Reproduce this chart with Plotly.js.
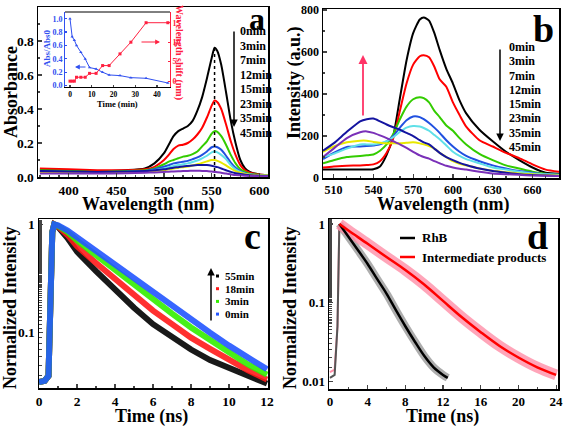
<!DOCTYPE html>
<html><head><meta charset="utf-8">
<script src="https://cdn.plot.ly/plotly-3.0.1.min.js"></script>
<style>html,body{margin:0;padding:0;background:#fff}#chart{width:564px;height:426px}</style>
</head><body><div id="chart"></div>
<script>
// ---------- Panel a: absorbance spectra ----------
const wlA = [370,400,430,460,480,490,500,505,510,515,520,525,530,535,540,545,550,553,556,560,565,570,575,580,585,590,600,610];
const timeLabels = ['0min','3min','7min','12min','15min','23min','35min','45min'];
const abs0  = [0.045,0.04,0.035,0.04,0.05,0.08,0.14,0.19,0.24,0.27,0.285,0.30,0.33,0.39,0.47,0.58,0.70,0.76,0.74,0.66,0.50,0.33,0.20,0.10,0.05,0.03,0.015,0.01];
const abs3  = [0.05,0.045,0.04,0.04,0.045,0.06,0.10,0.13,0.165,0.185,0.19,0.20,0.22,0.25,0.29,0.35,0.42,0.45,0.44,0.40,0.31,0.21,0.13,0.07,0.04,0.025,0.015,0.01];
const abs7  = [0.04,0.035,0.03,0.035,0.04,0.05,0.075,0.09,0.10,0.11,0.12,0.125,0.135,0.15,0.18,0.21,0.255,0.27,0.265,0.24,0.19,0.13,0.08,0.045,0.03,0.02,0.012,0.008];
const abs12 = [0.035,0.03,0.03,0.03,0.035,0.045,0.06,0.07,0.08,0.085,0.09,0.095,0.105,0.115,0.13,0.15,0.175,0.18,0.175,0.16,0.125,0.085,0.055,0.035,0.022,0.015,0.01,0.008];
const abs15 = [0.03,0.03,0.028,0.03,0.033,0.04,0.05,0.058,0.065,0.07,0.075,0.08,0.088,0.097,0.11,0.125,0.145,0.15,0.145,0.13,0.105,0.07,0.045,0.03,0.02,0.015,0.01,0.008];
const abs23 = [0.03,0.028,0.027,0.028,0.03,0.035,0.04,0.045,0.05,0.055,0.058,0.062,0.068,0.075,0.083,0.092,0.10,0.10,0.095,0.085,0.068,0.05,0.035,0.025,0.018,0.013,0.01,0.008];
const abs35 = [0.035,0.032,0.03,0.032,0.035,0.04,0.045,0.05,0.055,0.058,0.062,0.065,0.068,0.07,0.071,0.07,0.066,0.062,0.058,0.05,0.04,0.03,0.022,0.017,0.013,0.01,0.008,0.006];
const abs45 = [0.02,0.02,0.02,0.022,0.025,0.027,0.03,0.031,0.033,0.034,0.035,0.036,0.037,0.037,0.036,0.035,0.032,0.03,0.028,0.025,0.02,0.016,0.012,0.01,0.008,0.006,0.005,0.004];
const peakWl = 553, peakAbs = 0.76;

// inset
const insetTime  = [0,1,2,3,5,7,9,12,15,18,23,28,35,45];
const insetRatio = [1.0,0.73,0.68,0.6,0.5,0.4,0.27,0.25,0.2,0.16,0.15,0.12,0.11,0.04];
const insetShift = [0,0,0,1,1,1,2,2,4,4,7,10,15,15];

// ---------- Panel b: emission spectra ----------
const wlB = [502,510,520,530,535,540,545,550,555,560,565,570,575,578,582,586,590,595,600,605,610,620,630,640,650,660,670,680];
const em0  = [40,40,40,40,40,42,55,110,200,380,560,690,755,765,750,690,610,520,450,370,308,230,175,125,85,50,25,20];
const em3  = [50,55,58,60,62,65,80,120,190,320,450,540,580,585,575,530,470,435,360,300,245,180,150,120,95,65,40,30];
const em7  = [70,85,100,105,108,112,130,160,210,280,340,375,385,380,360,320,290,250,225,190,160,115,85,60,45,30,20,15];
const em12 = [90,120,148,150,152,155,160,175,200,240,275,293,290,280,262,240,215,180,150,125,105,80,60,45,33,25,18,15];
const em15 = [100,115,140,160,160,160,165,175,195,220,240,248,245,238,225,205,185,155,125,105,90,70,50,40,30,22,18,15];
const em23 = [125,150,170,178,178,172,168,165,165,165,168,170,165,160,152,140,120,100,80,68,60,45,35,28,22,18,14,12];
const em35 = [130,165,220,270,280,283,270,255,242,230,215,200,180,170,160,140,120,100,85,72,62,45,33,25,18,14,12,10];
const em45 = [100,140,190,218,222,215,203,190,175,160,143,125,108,100,92,80,70,58,50,44,40,30,22,18,15,12,11,10];

// ---------- Panel c: decays ----------
const tC = [0,0.3,0.5,0.6,0.7,0.8,1,1.5,2,3,4,5,6,7,8,9,10,11,12];
const decayLabels = ['55min','18min','3min','0min'];
const decBlack = [0.035,0.036,0.04,0.3,0.85,1.0,0.95,0.75,0.56,0.37,0.25,0.17,0.12,0.09,0.07,0.056,0.047,0.04,0.034];
const decRed   = [0.035,0.036,0.04,0.3,0.85,1.0,0.96,0.8,0.63,0.44,0.31,0.22,0.16,0.12,0.09,0.071,0.056,0.045,0.037];
const decGreen = [0.035,0.036,0.04,0.3,0.85,1.0,0.97,0.85,0.71,0.52,0.38,0.28,0.2,0.15,0.112,0.085,0.066,0.051,0.041];
const decBlue  = [0.035,0.036,0.04,0.3,0.85,1.0,0.98,0.88,0.76,0.57,0.43,0.32,0.24,0.18,0.135,0.1,0.076,0.059,0.046];

// ---------- Panel d ----------
const tRise = [0,0.5,0.8,0.9,1];
const rhbRise = [0.011,0.012,0.05,0.4,1];
const intRise = [0.013,0.014,0.05,0.4,1];
const tRhB = [1,2,3,4,5,6,7,8,9,10,11,12,12.5];
const rhbData = [1,0.68,0.46,0.31,0.2,0.13,0.08,0.05,0.032,0.021,0.015,0.012,0.011];
const rhbFit  = [1,0.68,0.46,0.31,0.2,0.13,0.08,0.05,0.032,0.021,0.015,0.012,0.011];
const tInt = [1,2,4,6,8,10,12,14,16,18,20,22,24];
const intData = [1,0.82,0.56,0.38,0.26,0.17,0.105,0.065,0.042,0.028,0.02,0.015,0.012];
const intFit  = [1,0.82,0.56,0.38,0.26,0.17,0.105,0.065,0.042,0.028,0.02,0.015,0.012];
const fitLabels = ['RhB','Intermediate products'];

// ---------- helpers ----------
const W = 564, H = 426;
const px = x => x / W, py = y => 1 - y / H;
const SERIF = 'Liberation Serif';
const bf = (s, c) => ({family: SERIF, size: s, color: c || '#000', weight: 'bold'});

const colA = ['#000000','#ff0000','#33cc00','#2050e0','#60e0e8','#e8e800','#1414a0','#7a30b8'];
const colC = ['#000000','#ff1a1a','#33ee00','#2255ff'];

const traces = [];
const absSeries = [abs0,abs3,abs7,abs12,abs15,abs23,abs35,abs45];
absSeries.forEach((s,i)=>traces.push({x:wlA,y:s,xaxis:'x',yaxis:'y',type:'scatter',mode:'lines',line:{color:colA[i],width:2,shape:'spline',smoothing:0.6}}));
traces.push({x:insetTime,y:insetRatio,xaxis:'x5',yaxis:'y5',type:'scatter',mode:'lines+markers',line:{color:'#3050f0',width:1},marker:{symbol:'triangle-up',size:3,color:'#3050f0'}});
traces.push({x:insetTime,y:insetShift,xaxis:'x5',yaxis:'y6',type:'scatter',mode:'lines+markers',line:{color:'#ff2040',width:1},marker:{symbol:'square',size:3,color:'#ff2040'}});
const emSeries = [em0,em3,em7,em12,em15,em23,em35,em45];
emSeries.forEach((s,i)=>traces.push({x:wlB,y:s,xaxis:'x2',yaxis:'y2',type:'scatter',mode:'lines',line:{color:colA[i],width:2,shape:'spline',smoothing:0.6}}));
[decBlack,decRed,decGreen,decBlue].forEach((s,i)=>traces.push({x:tC,y:s,xaxis:'x3',yaxis:'y3',type:'scatter',mode:'lines',line:{color:colC[i],width:6},opacity:0.9}));
traces.push({x:tRise,y:intRise,xaxis:'x4',yaxis:'y4',type:'scatter',mode:'lines',line:{color:'#ff8fa8',width:2}});
traces.push({x:tRise,y:rhbRise,xaxis:'x4',yaxis:'y4',type:'scatter',mode:'lines',line:{color:'#555',width:2}});
traces.push({x:tRhB,y:rhbData,xaxis:'x4',yaxis:'y4',type:'scatter',mode:'lines',line:{color:'#8a8a8a',width:8,shape:'spline'},opacity:0.7});
traces.push({x:tInt,y:intData,xaxis:'x4',yaxis:'y4',type:'scatter',mode:'lines',line:{color:'#ff8fa8',width:11,shape:'spline'},opacity:0.8});
traces.push({x:tRhB,y:rhbFit,xaxis:'x4',yaxis:'y4',type:'scatter',mode:'lines',line:{color:'#000',width:2.5,shape:'spline'}});
traces.push({x:tInt,y:intFit,xaxis:'x4',yaxis:'y4',type:'scatter',mode:'lines',line:{color:'#ff0000',width:2.5,shape:'spline'}});

const ax = (o) => Object.assign({showline:true,linewidth:1.5,linecolor:'#000',mirror:true,ticks:'inside',ticklen:4,tickwidth:1.2,showgrid:false,zeroline:false,tickfont:bf(13.5),fixedrange:true}, o);

const layout = {
  width:W,height:H,margin:{l:0,r:0,t:0,b:0},paper_bgcolor:'#fff',plot_bgcolor:'rgba(0,0,0,0)',showlegend:false,
  xaxis: ax({domain:[px(38),px(268)],range:[368,609],anchor:'y',tickvals:[400,450,500,550,600],minor:{ticks:'inside',ticklen:2,dtick:10}}),
  yaxis: ax({domain:[py(177),py(7)],range:[0,1.0],anchor:'x',tickvals:[0,0.2,0.4,0.6,0.8,1.0],ticktext:['0.0','0.2','0.4','0.6','0.8','1.0'],minor:{ticks:'inside',ticklen:2,dtick:0.1}}),
  xaxis2: ax({domain:[px(323),px(559)],range:[502,680],anchor:'y2',tickvals:[510,540,570,600,630,660],tickfont:bf(12),minor:{ticks:'inside',ticklen:2,dtick:10}}),
  yaxis2: ax({domain:[py(178),py(9)],range:[0,805],anchor:'x2',tickvals:[0,200,400,600,800],tickfont:bf(12),minor:{ticks:'inside',ticklen:2,dtick:100}}),
  xaxis3: ax({domain:[px(39),px(268)],range:[0,12.05],anchor:'y3',tickvals:[0,2,4,6,8,10,12],minor:{ticks:'inside',ticklen:2,dtick:1}}),
  yaxis3: ax({domain:[py(388),py(219)],type:'log',range:[-1.51,0.05],anchor:'x3',tickvals:[0.1,1],ticktext:['0.1','1'],minor:{ticks:'inside',ticklen:3}}),
  xaxis4: ax({domain:[px(329),px(558)],range:[-0.1,24.2],anchor:'y4',tickvals:[0,4,8,12,16,20,24],tickfont:bf(13),minor:{ticks:'inside',ticklen:2,dtick:2}}),
  yaxis4: ax({domain:[py(389),py(219)],type:'log',range:[-2.1,0.064],anchor:'x4',tickvals:[0.01,0.1,1],ticktext:['0.01','0.1','1'],tickfont:bf(13),minor:{ticks:'inside',ticklen:3}}),
  xaxis5: ax({domain:[px(65),px(170)],range:[-2.3,46],anchor:'y5',linewidth:1,tickvals:[0,10,20,30,40],tickfont:bf(7.5),ticklen:2,mirror:false}),
  yaxis5: ax({domain:[py(87),py(12)],range:[-0.02,1.1],anchor:'x5',linewidth:1,linecolor:'#3050f0',tickcolor:'#3050f0',tickvals:[0,0.2,0.4,0.6,0.8,1.0],ticktext:['0.0','0.2','0.4','0.6','0.8','1.0'],tickfont:bf(8,'#3050f0'),ticklen:2,mirror:false}),
  yaxis6: ax({overlaying:'y5',side:'right',range:[-1.5,17.75],anchor:'x5',linewidth:1,linecolor:'#ff2040',tickcolor:'#ff2040',tickvals:[0,5,10,15],tickfont:bf(8,'#ff2040'),ticklen:2,mirror:false}),
  shapes: [
    {type:'line',xref:'x',yref:'y',x0:peakWl,x1:peakWl,y0:0,y1:peakAbs,line:{color:'#000',width:1.5,dash:'dot'}},
    {type:'line',xref:'paper',yref:'paper',x0:px(65),x1:px(170),y0:py(12),y1:py(12),line:{color:'#000',width:1}},
    {type:'line',xref:'paper',yref:'paper',x0:px(400),x1:px(415),y0:py(238),y1:py(238),line:{color:'#000',width:2.5}},
    {type:'line',xref:'paper',yref:'paper',x0:px(400),x1:px(415),y0:py(257),y1:py(257),line:{color:'#ff0000',width:2.5}},
  ],
  annotations: []
};
const A = layout.annotations;
const txt = (x,y,t,font,o) => A.push(Object.assign({xref:'paper',yref:'paper',x:px(x),y:py(y),text:t,showarrow:false,font:font,xanchor:'center',yanchor:'middle'},o||{}));
// axis titles
txt(11,92,'Absorbance',bf(18),{textangle:-90});
txt(148,204,'Wavelength (nm)',bf(18));
txt(294,83,'Intensity (a.u.)',bf(18),{textangle:-90});
txt(443,204,'Wavelength (nm)',bf(18));
txt(10,308,'Normalized Intensity',bf(18),{textangle:-90});
txt(151,416,'Time (ns)',bf(18));
txt(290,308,'Normalized Intensity',bf(18),{textangle:-90});
txt(442,416,'Time (ns)',bf(18));
// inset titles
txt(47,48,'Abs/Abs0',bf(9,'#3050f0'),{textangle:-90});
txt(117,104,'Time (min)',bf(8.5));
txt(179,52,'Wavelength shift (nm)',bf(10,'#ff2040'),{textangle:90});
// panel letters
txt(257,19,'a',bf(32));
txt(543,29,'b',bf(38));
txt(252,236,'c',bf(38));
txt(537,236,'d',bf(38));
// legends a and b
timeLabels.forEach((t,i)=>{
  txt(238,31+i*14.5,t,bf(12),{xanchor:'left'});
  txt(507,47+i*14.3,t,bf(12),{xanchor:'left'});
});
decayLabels.forEach((t,i)=>{
  txt(223,276+i*12.7,t,bf(11),{xanchor:'left'});
  layout.shapes.push({type:'rect',xref:'paper',yref:'paper',x0:px(216),x1:px(219),y0:py(276+i*12.7-1.5),y1:py(276+i*12.7+1.5),fillcolor:colC[i],line:{width:0}});
});
fitLabels.forEach((t,i)=>txt(420,238+i*19,t,bf(13),{xanchor:'left'}));
// arrows
const arrow = (x,yHead,dy,color,w) => A.push({xref:'paper',yref:'paper',x:px(x),y:py(yHead),ax:0,ay:dy,axref:'pixel',ayref:'pixel',text:'',showarrow:true,arrowhead:2,arrowsize:1,arrowwidth:w||1.5,arrowcolor:color});
arrow(234,127,-97,'#000',1.5);
arrow(500,141,-93,'#000',1.5);
arrow(363,55,62,'#ff3366',1.8);
arrow(211,268,54,'#000',1.5);
A.push({xref:'paper',yref:'paper',x:px(75),y:py(67),ax:12,ay:0,text:'',showarrow:true,arrowhead:2,arrowsize:0.8,arrowwidth:1.2,arrowcolor:'#3050f0'});
A.push({xref:'paper',yref:'paper',x:px(160),y:py(42),ax:-20,ay:0,text:'',showarrow:true,arrowhead:2,arrowsize:0.8,arrowwidth:1.2,arrowcolor:'#ff2040'});

Plotly.newPlot('chart',traces,layout,{staticPlot:true,displayModeBar:false});
</script></body></html>
